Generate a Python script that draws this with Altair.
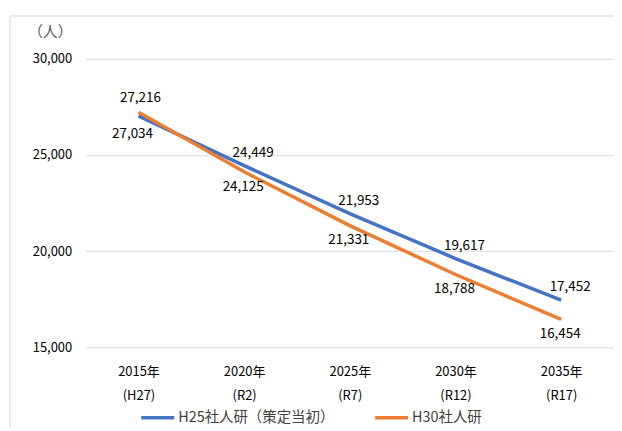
import altair as alt
import pandas as pd

categories = ["2015年\n(H27)", "2020年\n(R2)", "2025年\n(R7)", "2030年\n(R12)", "2035年\n(R17)"]
series_names = ["H25社人研（策定当初）", "H30社人研"]
h25_values = [27034, 24449, 21953, 19617, 17452]
h30_values = [27216, 24125, 21331, 18788, 16454]
y_ticks = [15000, 20000, 25000, 30000]

rows = []
for i, c in enumerate(categories):
    rows.append({"cat": c, "series": series_names[0], "value": h25_values[i], "idx": i})
    rows.append({"cat": c, "series": series_names[1], "value": h30_values[i], "idx": i})
df = pd.DataFrame(rows)

FONT = "Noto Sans CJK JP"
W, H = 531, 290

xscale = alt.Scale(type="point", padding=0.5)
xenc = alt.X("cat:N", sort=categories, scale=xscale,
             axis=alt.Axis(title=None, labelAngle=0, domain=False, ticks=False, grid=False,
                           labelExpr="split(datum.label, '\\n')", labelLineHeight=24,
                           labelPadding=18, labelFontSize=13, labelColor="#000000",
                           labelFont=FONT))
yscale = alt.Scale(domain=[15000, 30000])
yenc = alt.Y("value:Q", scale=yscale,
             axis=alt.Axis(values=y_ticks, labelExpr="format(datum.value, ',')",
                           title="（人）", titleAngle=0,
                           titleX=-36, titleY=-19, titleAlign="center",
                           titleColor="#595959", titleFontWeight="normal",
                           titleFontSize=15, titleFont=FONT,
                           domain=False, ticks=False, labelPadding=14,
                           labelFontSize=13, labelColor="#000000", labelFont=FONT,
                           grid=True, gridColor="#d9d9d9", gridWidth=1))
color = alt.Color("series:N", sort=series_names,
                  scale=alt.Scale(domain=series_names, range=["#4472C4", "#ED7D31"]),
                  legend=alt.Legend(title=None, orient="none", direction="horizontal",
                                    legendX=54, legendY=342, symbolType="stroke",
                                    symbolSize=1100, symbolStrokeWidth=3.5,
                                    labelFontSize=14.5, labelFont=FONT, labelColor="#404040",
                                    columnPadding=32, symbolOffset=0, labelOffset=2))

base = alt.Chart(df)

border = alt.Chart(pd.DataFrame({"a": [0]})).mark_rect(
    fillOpacity=0, stroke="#d9d9d9", strokeWidth=1
).encode(x=alt.value(-76), x2=alt.value(700), y=alt.value(-43), y2=alt.value(500))

lines = base.mark_line(strokeWidth=3.5).encode(x=xenc, y=yenc, color=color,
                                                 order=alt.Order("idx:Q"))

def labels(series, first, dx, dy):
    cond = "datum.idx == 0" if first else "datum.idx > 0"
    return base.transform_filter(alt.datum.series == series).transform_filter(cond).mark_text(
        fontSize=13.5, font=FONT, color="#000000", dx=dx, dy=dy
    ).encode(x=alt.X("cat:N", sort=categories, scale=xscale),
             y=alt.Y("value:Q", scale=yscale),
             text=alt.Text("value:Q", format=","))

chart = alt.layer(
    border,
    lines,
    labels(series_names[0], True, -6, 18),
    labels(series_names[0], False, 9, -13),
    labels(series_names[1], True, 2, -14),
    labels(series_names[1], False, -1, 15),
).properties(width=W, height=H).configure_view(stroke=None).properties(
    autosize=alt.AutoSizeParams(type="none"),
    padding={"left": 78, "top": 50, "right": 0, "bottom": 80},
)

chart.save("out.html", embed_options={"renderer": "svg", "actions": False})
